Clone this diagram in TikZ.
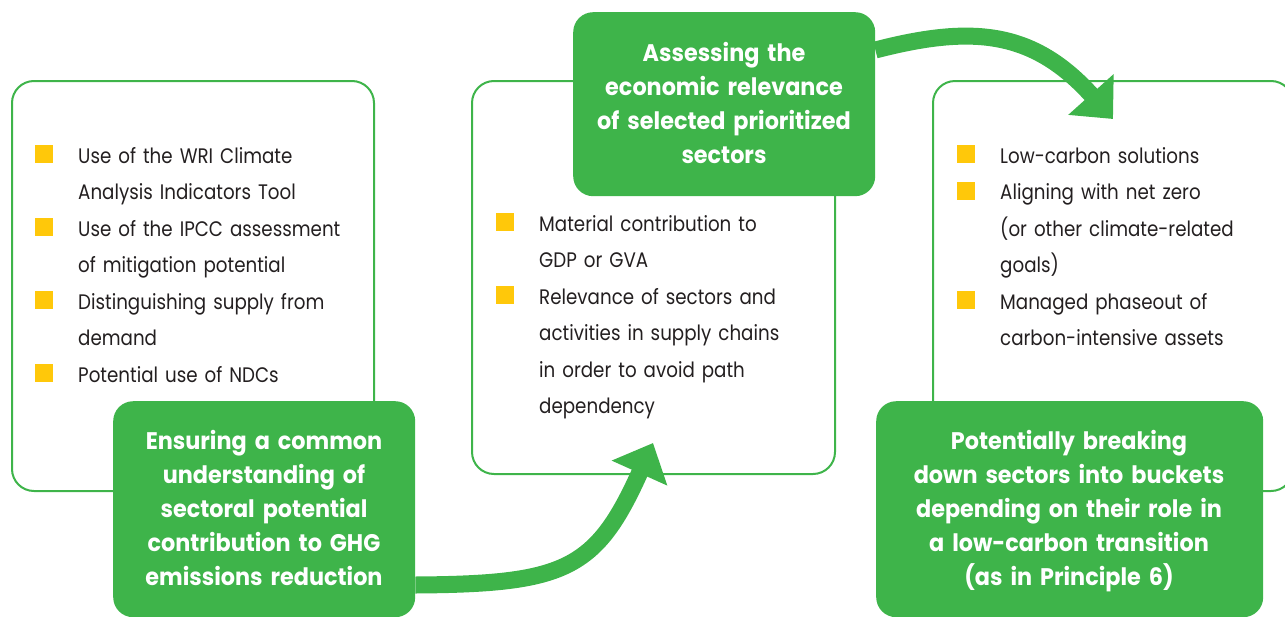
\documentclass[tikz,border=0pt]{standalone}
\usepackage{fontspec}
\setmainfont{Poppins}[FakeStretch=0.87]
\newfontfamily\headfont{Poppins}[FakeStretch=0.93]
\usetikzlibrary{arrows.meta}
\definecolor{grn}{RGB}{62,180,74}
\definecolor{ylw}{RGB}{255,200,10}
\definecolor{txt}{RGB}{35,31,32}
\begin{document}
\begin{tikzpicture}[x=1pt,y=-1pt,
  outline/.style={draw=grn, line width=2pt, rounded corners=22pt, anchor=north west, inner sep=0pt},
  headbox/.style={fill=grn, rounded corners=20pt, anchor=north west, inner sep=0pt},
  headtext/.style={text=white, font=\headfont\bfseries\fontsize{24}{34}\selectfont, align=center, text width=380pt, inner sep=0pt, anchor=base},
  body/.style={text=txt, font=\fontsize{21}{36.5}\selectfont, align=left, text width=320pt, inner sep=0pt, anchor=base west},
  bul/.style={fill=ylw},
  flow/.style={draw=grn, line width=17pt, -{Triangle[length=33pt,width=59pt]}}
]
\useasboundingbox (0,0) rectangle (1285,616);
\begin{scope}
\clip (0,0) rectangle (1285,616);
% white outlined boxes
\node[outline, minimum width=362pt, minimum height=410pt] (w1) at (11,80) {};
\node[outline, minimum width=363pt, minimum height=393pt] (w2) at (471,80) {};
\node[outline, minimum width=360pt, minimum height=410pt] (w3) at (932,80) {};
% bullets
\foreach \y in {163,236,309,382} \fill[bul] (35,\y-18) rectangle (53,\y);
\foreach \y in {231,304} \fill[bul] (496,\y-18) rectangle (514,\y);
\foreach \y in {163,199.5,309} \fill[bul] (957,\y-18) rectangle (975,\y);
% body texts
\node[body] (t1) at (78,163) {Use of the WRI Climate\\Analysis Indicators Tool\\Use of the IPCC assessment\\of mitigation potential\\Distinguishing supply from\\demand\\Potential use of NDCs};
\node[body] (t2) at (539,231) {Material contribution to\\GDP or GVA\\Relevance of sectors and\\activities in supply chains\\in order to avoid path\\dependency};
\node[body] (t3) at (1000,163) {Low-carbon solutions\\Aligning with net zero\\(or other climate-related\\goals)\\Managed phaseout of\\carbon-intensive assets};
% green heading boxes
\node[headbox, minimum width=302pt, minimum height=216pt] (g1) at (113,401) {};
\node[headbox, minimum width=302pt, minimum height=184pt] (g2) at (573,12) {};
\node[headbox, minimum width=387pt, minimum height=216pt] (g3) at (876,401) {};
\node[headtext] (h1) at (264,449) {Ensuring a common\\understanding of\\sectoral potential\\contribution to GHG\\emissions reduction};
\node[headtext] (h2) at (724,61) {Assessing the\\economic relevance\\of selected prioritized\\sectors};
\node[headtext] (h3) at (1069,449) {Potentially breaking\\down sectors into buckets\\depending on their role in\\a low-carbon transition\\(as in Principle 6)};
% arrows
\coordinate (a1) at (653,443);
\coordinate (a2) at (1113,119);
\draw[flow] (g1.east |- 0,585) .. controls (565,584) and (596,570) .. (a1);
\draw[flow] (g2.east |- 0,50) .. controls (972,25) and (1033,30) .. (a2);
\end{scope}
\end{tikzpicture}
\end{document}
